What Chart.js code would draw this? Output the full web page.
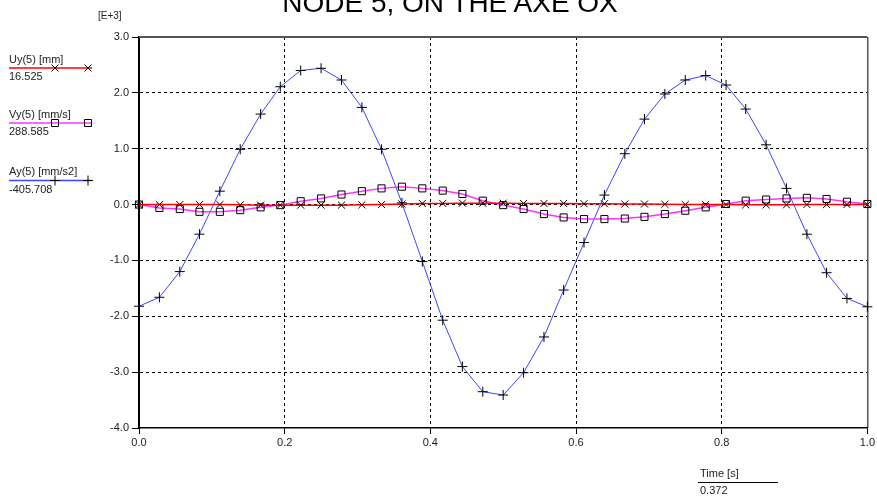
<!DOCTYPE html>
<html>
<head>
<meta charset="utf-8">
<title>Node 5, on the axe OX</title>
<script src="https://cdn.jsdelivr.net/npm/chart.js@4/dist/chart.umd.min.js"></script>
<style>
body { margin: 0; background: #fff; }
#wrap { position: relative; width: 877px; height: 497px; overflow: hidden; font-family: "Liberation Sans", Arial, sans-serif; }
#wrap canvas { position: absolute; left: 0; top: 0; }
.t { position: absolute; white-space: nowrap; color: #222; font-size: 11px; line-height: 1; }
#title { font-size: 28px; color: #000; left: 450px; top: -11px; transform: translateX(-50%); }
</style>
</head>
<body>
<div id="wrap">
  <canvas id="myChart" width="877" height="497"></canvas>
  <div class="t" id="title">NODE 5, ON THE AXE OX</div>
  <div class="t" style="left:98px;top:11px;font-size:10px">[E+3]</div>

  <div class="t" style="left:9px;top:54px">Uy(5) [mm]</div>
  <div class="t" style="left:9px;top:71px">16.525</div>
  <div class="t" style="left:9px;top:109px">Vy(5) [mm/s]</div>
  <div class="t" style="left:9px;top:126px">288.585</div>
  <div class="t" style="left:9px;top:166px">Ay(5) [mm/s2]</div>
  <div class="t" style="left:9px;top:184px">-405.708</div>

  <div class="t" style="left:700px;top:468px">Time [s]</div>
  <div class="t" style="left:700px;top:485px">0.372</div>
</div>

<script>
// time steps (s)
var times = [0, 0.028, 0.056, 0.083, 0.111, 0.139, 0.167, 0.194, 0.222, 0.25,
    0.278, 0.306, 0.333, 0.361, 0.389, 0.417, 0.444, 0.472, 0.5, 0.528,
    0.556, 0.583, 0.611, 0.639, 0.667, 0.694, 0.722, 0.75, 0.778, 0.806,
    0.833, 0.861, 0.889, 0.917, 0.944, 0.972, 1.0];

// values in [E+3]
var uy = [0.0, 0.0, 0.0, 0.0, 0.0, -0.005, -0.01, -0.01, -0.01, -0.01,
    -0.01, -0.005, 0.0, 0.01, 0.02, 0.02, 0.025, 0.025, 0.025, 0.02,
    0.02, 0.02, 0.015, 0.015, 0.01, 0.01, 0.005, 0.0, 0.0, 0.0,
    -0.005, -0.005, -0.005, 0.0, 0.0, 0.0, 0.0];

var vy = [0.0, -0.06, -0.08, -0.13, -0.13, -0.10, -0.05, -0.01, 0.06, 0.11,
    0.18, 0.24, 0.29, 0.32, 0.29, 0.25, 0.19, 0.07, -0.01, -0.08,
    -0.17, -0.23, -0.26, -0.26, -0.25, -0.22, -0.17, -0.11, -0.05, 0.01,
    0.07, 0.09, 0.11, 0.12, 0.10, 0.05, 0.01];

var ay = [-1.82, -1.66, -1.20, -0.53, 0.24, 0.99, 1.62, 2.11, 2.40, 2.44,
    2.23, 1.74, 0.99, 0.03, -1.02, -2.07, -2.90, -3.35, -3.41, -3.01,
    -2.37, -1.53, -0.68, 0.17, 0.91, 1.53, 1.98, 2.23, 2.31, 2.14,
    1.71, 1.07, 0.29, -0.53, -1.22, -1.68, -1.83];

var xMin = 0, xMax = 1, xStep = 0.2;
var yMin = -4, yMax = 3, yStep = 1;

var series = [
    { label: "Uy(5) [mm]", values: uy, color: "#ff0000", width: 1.5, marker: "crossRot", legendY: 68 },
    { label: "Vy(5) [mm/s]", values: vy, color: "#ff33ff", width: 1.5, marker: "rect", legendY: 123 },
    { label: "Ay(5) [mm/s2]", values: ay, color: "#3a46ff", width: 1, marker: "cross", legendY: 180.5 }
];

var toPoints = function (vals) {
    return times.map(function (t, i) { return { x: t, y: vals[i] }; });
};

var drawMarker = function (ctx, style, x, y) {
    ctx.save();
    ctx.strokeStyle = "#000";
    ctx.lineWidth = 1;
    ctx.beginPath();
    if (style === "rect") {
        ctx.rect(x - 3.5, y - 3.5, 7, 7);
    } else if (style === "cross") {
        ctx.moveTo(x - 5, y); ctx.lineTo(x + 5, y);
        ctx.moveTo(x, y - 5); ctx.lineTo(x, y + 5);
    } else {
        ctx.moveTo(x - 3.5, y - 3.5); ctx.lineTo(x + 3.5, y + 3.5);
        ctx.moveTo(x + 3.5, y - 3.5); ctx.lineTo(x - 3.5, y + 3.5);
    }
    ctx.stroke();
    ctx.restore();
};

// frame (top + right), side legend lines, time cursor line
var decorations = {
    id: "decorations",
    beforeDatasetsDraw: function (chart) {
        var ctx = chart.ctx, a = chart.chartArea;
        ctx.save();
        ctx.strokeStyle = "#555";
        ctx.lineWidth = 2;
        ctx.beginPath();
        ctx.moveTo(a.left, a.top);
        ctx.lineTo(a.right, a.top);
        ctx.stroke();
        ctx.strokeStyle = "#000";
        ctx.lineWidth = 1;
        ctx.beginPath();
        ctx.moveTo(a.right + 0.5, a.top);
        ctx.lineTo(a.right + 0.5, a.bottom);
        ctx.stroke();
        ctx.restore();
    },
    afterDraw: function (chart) {
        var ctx = chart.ctx;
        series.forEach(function (s) {
            ctx.save();
            ctx.strokeStyle = s.color;
            ctx.lineWidth = 1.5;
            ctx.beginPath();
            ctx.moveTo(9, s.legendY);
            ctx.lineTo(92, s.legendY);
            ctx.stroke();
            ctx.restore();
            drawMarker(ctx, s.marker, 55, s.legendY);
            drawMarker(ctx, s.marker, 88, s.legendY);
        });
        ctx.save();
        ctx.strokeStyle = "#000";
        ctx.lineWidth = 1;
        ctx.beginPath();
        ctx.moveTo(698, 482.5);
        ctx.lineTo(778, 482.5);
        ctx.stroke();
        ctx.restore();
    }
};

var gridColor = function (edgeA, edgeB) {
    return function (c) {
        if (c.tick && (Math.abs(c.tick.value - edgeA) < 1e-9 || Math.abs(c.tick.value - edgeB) < 1e-9)) {
            return "rgba(0,0,0,0)";
        }
        return "#000";
    };
};

var ctx = document.getElementById("myChart");
var myChart = new Chart(ctx, {
    type: "line",
    data: {
        datasets: series.map(function (s) {
            return {
                label: s.label,
                data: toPoints(s.values),
                borderColor: s.color,
                borderWidth: s.width,
                backgroundColor: "rgba(0,0,0,0)",
                fill: false,
                tension: 0,
                pointStyle: s.marker,
                pointRadius: 5,
                pointBorderColor: "#000",
                pointBackgroundColor: "rgba(0,0,0,0)",
                pointBorderWidth: 1,
                clip: false
            };
        })
    },
    options: {
        responsive: false,
        animation: false,
        events: [],
        layout: { padding: { left: 0, right: 8, top: 37, bottom: 0 } },
        plugins: {
            legend: { display: false },
            title: { display: false },
            tooltip: { enabled: false }
        },
        scales: {
            x: {
                type: "linear",
                min: xMin,
                max: xMax,
                afterFit: function (scale) { scale.height = 69; },
                ticks: {
                    stepSize: xStep,
                    color: "#222",
                    padding: 2,
                    font: { family: "Liberation Sans", size: 11 },
                    callback: function (v) { return v.toFixed(1); }
                },
                grid: {
                    color: gridColor(xMin, xMax),
                    lineWidth: 1,
                    tickLength: 6,
                    tickColor: "#000",
                    tickWidth: 1
                },
                border: { display: true, color: "#000", width: 1.5, dash: [3, 3] }
            },
            y: {
                type: "linear",
                min: yMin,
                max: yMax,
                afterFit: function (scale) { scale.width = 139; },
                ticks: {
                    stepSize: yStep,
                    color: "#222",
                    padding: 3,
                    font: { family: "Liberation Sans", size: 11 },
                    callback: function (v) { return v.toFixed(1); }
                },
                grid: {
                    color: gridColor(yMin, yMax),
                    lineWidth: 1,
                    tickLength: 7,
                    tickColor: "#000",
                    tickWidth: 1
                },
                border: { display: true, color: "#000", width: 2, dash: [3, 3] }
            }
        }
    },
    plugins: [decorations]
});
</script>
</body>
</html>
